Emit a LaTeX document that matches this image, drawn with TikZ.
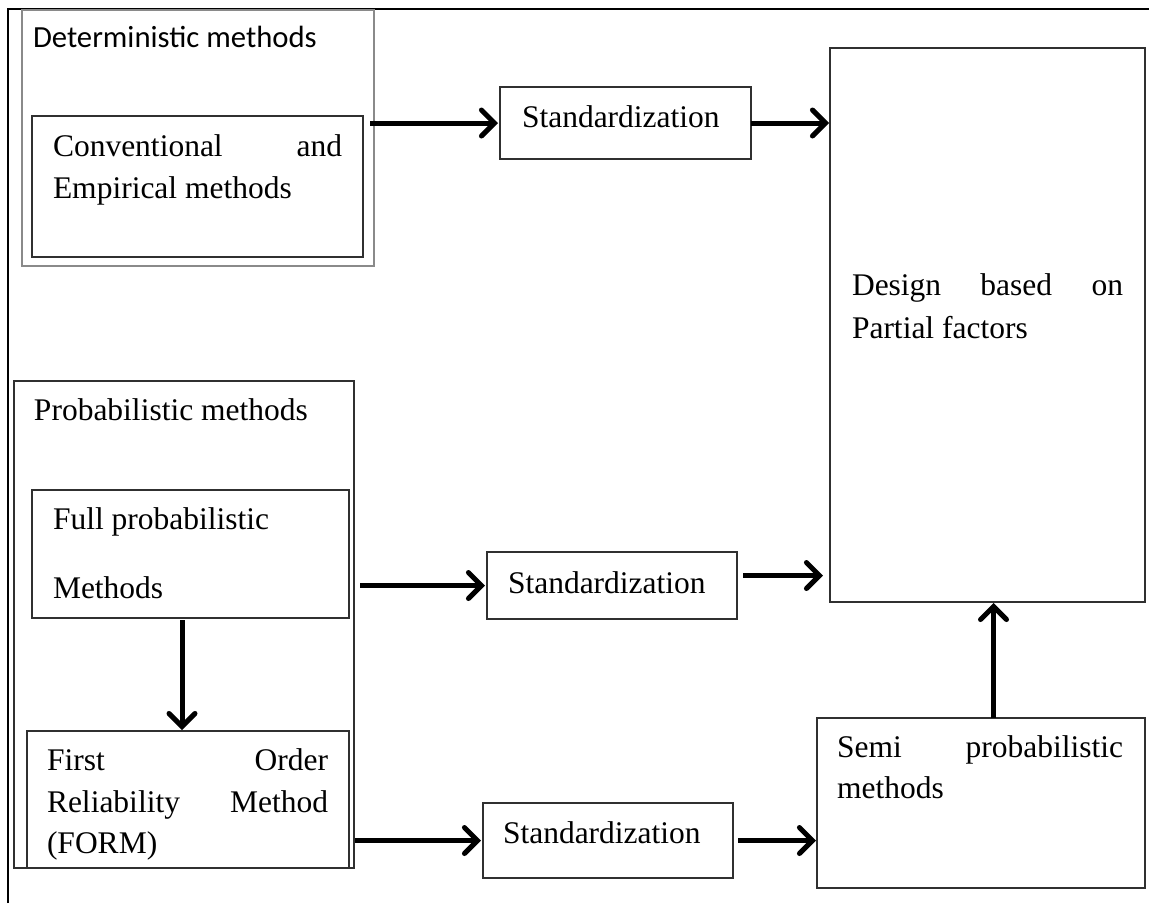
\documentclass[tikz,border=0pt]{standalone}
\usepackage{fontspec}
\setmainfont{Liberation Serif}
\newfontfamily\calib{Carlito}
\usetikzlibrary{arrows.meta,calc}
\definecolor{boxline}{HTML}{303030}
\definecolor{grayline}{HTML}{8A8A8A}
\tikzset{
  box/.style={draw=boxline, line width=1.3pt, rectangle, inner sep=0pt, outer sep=0pt, anchor=north west},
  graybox/.style={draw=grayline, line width=2.2pt, rectangle, inner sep=0pt, outer sep=0pt, anchor=north west},
  txt/.style={inner sep=0pt, outer sep=0pt, anchor=base west, font=\fontsize{31.5}{38}\selectfont},
  sanstxt/.style={inner sep=0pt, outer sep=0pt, anchor=base west, font=\calib\fontsize{30.7}{37}\selectfont},
  arr/.style={line width=5pt, -{Straight Barb[length=13pt,width=26pt,line cap=round]}},
  frameline/.style={line width=2.5pt}
}
\begin{document}
\begin{tikzpicture}[x=1pt,y=-1pt]
\useasboundingbox (0,0) rectangle (1149,903);
\fill[white] (0,0) rectangle (1149,903);
% frame
\draw[frameline] (8,903) -- (8,9) -- (1149,9);
% boxes
\node[graybox, minimum width=352pt, minimum height=256pt] (detouter) at (22,10) {};
\node[box, minimum width=331pt, minimum height=141pt] (conv) at (32,116) {};
\node[box, minimum width=340pt, minimum height=487pt] (probouter) at (14,381) {};
\node[box, minimum width=317pt, minimum height=128pt] (full) at (32,490) {};
\node[box, minimum width=322pt, minimum height=137pt] (form) at (27,731) {};
\node[box, minimum width=251pt, minimum height=72pt] (std1) at (500,87) {};
\node[box, minimum width=250pt, minimum height=67pt] (std2) at (487,552) {};
\node[box, minimum width=250pt, minimum height=75pt] (std3) at (483,803) {};
\node[box, minimum width=315pt, minimum height=554pt] (design) at (830,48) {};
\node[box, minimum width=328pt, minimum height=170pt] (semi) at (817,718) {};
% texts
\node[sanstxt] (tdet) at (33,47) {Deterministic methods};
\node[txt] (tconv1) at (53,156) {\hbox to 289pt{Conventional\hfill and}};
\node[txt] (tconv2) at (53,198) {Empirical methods};
\node[txt] (tprob) at (34,420) {Probabilistic methods};
\node[txt] (tfull1) at (53,529) {Full probabilistic};
\node[txt] (tfull2) at (53,598) {Methods};
\node[txt] (tform1) at (47,770) {\hbox to 281pt{First\hfill Order}};
\node[txt] (tform2) at (47,812) {\hbox to 281pt{Reliability\hfill Method}};
\node[txt] (tform3) at (47,853) {(FORM)};
\node[txt] (ts1) at (522,127) {Standardization};
\node[txt] (ts2) at (508,593) {Standardization};
\node[txt] (ts3) at (503,843) {Standardization};
\node[txt] (tdes1) at (852,295) {\hbox to 271pt{Design\hfill based\hfill on}};
\node[txt] (tdes2) at (852,338) {Partial factors};
\node[txt] (tsemi1) at (837,757) {\hbox to 286pt{Semi\hfill probabilistic}};
\node[txt] (tsemi2) at (837,798) {methods};
% connectors
\draw[arr] ([xshift=7pt]conv.east |- std1.west) -- ([xshift=-2pt]std1.west);
\draw[arr] (std1.east) -- ([xshift=-1pt]design.west |- std1.east);
\draw[arr] ([xshift=11pt]full.east |- std2.west) -- ([xshift=-2pt]std2.west);
\draw[arr] ([xshift=6pt,yshift=10pt]std2.east) -- ([xshift=-7pt,yshift=10pt]design.west |- std2.east);
\draw[arr] ([xshift=6pt]form.east |- std3.west) -- ([xshift=-2pt]std3.west);
\draw[arr] ([xshift=5pt]std3.east) -- ([xshift=-1pt]semi.west |- std3.east);
\draw[arr] ([xshift=12.5pt]semi.north) -- ([xshift=12.5pt,yshift=-1pt]semi.north |- design.south);
\draw[arr] ([xshift=-8.5pt,yshift=-2pt]full.south) -- ([xshift=-8.5pt,yshift=1pt]full.south |- form.north);
\end{tikzpicture}
\end{document}
